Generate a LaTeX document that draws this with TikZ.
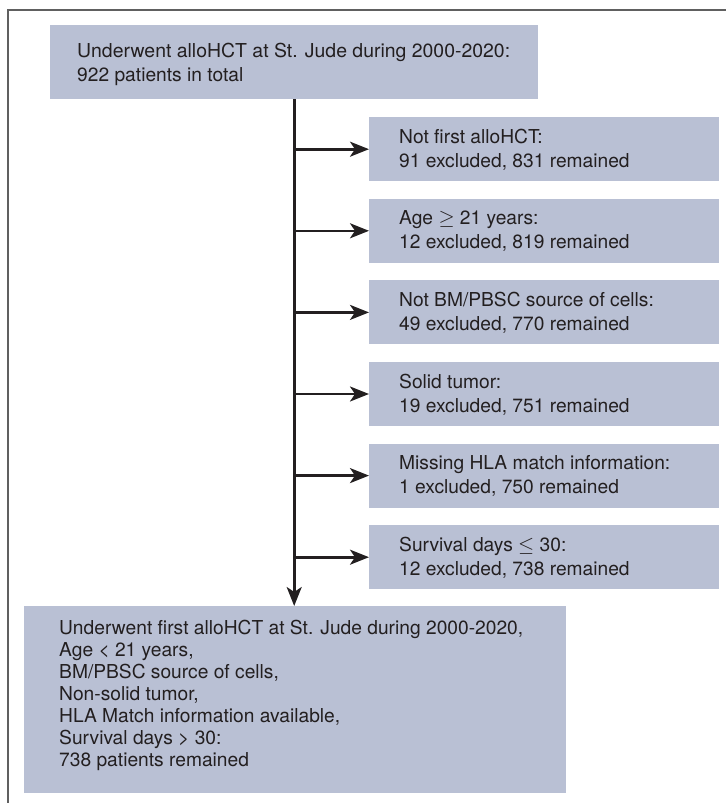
\documentclass[tikz,border=0pt]{standalone}
\usepackage{fontspec}
\usepackage{graphicx}
\setmainfont{TeX Gyre Heros}
\usetikzlibrary{arrows.meta}
\definecolor{boxfill}{RGB}{185,192,212}
\definecolor{ink}{RGB}{35,31,32}
\definecolor{framegray}{RGB}{96,96,96}
\newcommand{\fctext}[3]{\makebox[#1][l]{\hspace*{#2}\begin{tabular}[t]{@{}l@{}}#3\end{tabular}}}
\begin{document}
\begin{tikzpicture}[x=1pt,y=-1pt,
  box/.style={fill=boxfill, draw=none, inner sep=0pt, anchor=north west, text=ink,
    text height=0pt, font=\fontsize{19.2}{24}\selectfont},
  sidebox/.style={box, minimum height=64pt, text depth=12pt},
  conn/.style={draw=ink, line width=2.6pt, -{Stealth[length=19pt,width=15pt,inset=5pt]}}
]
\useasboundingbox (0,0) rectangle (726,803);
\fill[white] (0,0) rectangle (726,803);
\draw[framegray, line width=2pt] (8,803) -- (8,9.5) -- (726,9.5);

\node[box, minimum height=74pt, text depth=10pt] (top) at (50,25)
  {\fctext{488pt}{27pt}{\resizebox{433pt}{\height}{Underwent alloHCT at St. Jude during 2000-2020:}\\922 patients in total}};

\node[sidebox] (s1) at (369,117)
  {\fctext{350pt}{30pt}{Not first alloHCT:\\91 excluded, 831 remained}};
\node[sidebox] (s2) at (369,198.6)
  {\fctext{350pt}{30pt}{Age $\geq$ 21 years:\\12 excluded, 819 remained}};
\node[sidebox] (s3) at (369,280.2)
  {\fctext{350pt}{30pt}{Not BM/PBSC source of cells:\\49 excluded, 770 remained}};
\node[sidebox] (s4) at (369,361.8)
  {\fctext{350pt}{30pt}{Solid tumor:\\19 excluded, 751 remained}};
\node[sidebox] (s5) at (369,443.4)
  {\fctext{350pt}{30pt}{Missing HLA match information:\\1 excluded, 750 remained}};
\node[sidebox] (s6) at (369,525)
  {\fctext{350pt}{30pt}{Survival days $\leq$ 30:\\12 excluded, 738 remained}};

\node[box, minimum height=187pt, text depth=131pt, font=\fontsize{19.2}{22}\selectfont] (bot) at (24,606)
  {\fctext{542pt}{35pt}{Underwent first alloHCT at St. Jude during 2000-2020,\\
   Age < 21 years,\\
   BM/PBSC source of cells,\\
   Non-solid tumor,\\
   HLA Match information available,\\
   Survival days > 30:\\
   738 patients remained}};

\draw[conn] (top.south) -- (top.south |- bot.north);
\foreach \s in {s1,s2,s3,s4,s5,s6}
  \draw[conn] (top.south |- \s.west) -- (\s.west);
\end{tikzpicture}
\end{document}
